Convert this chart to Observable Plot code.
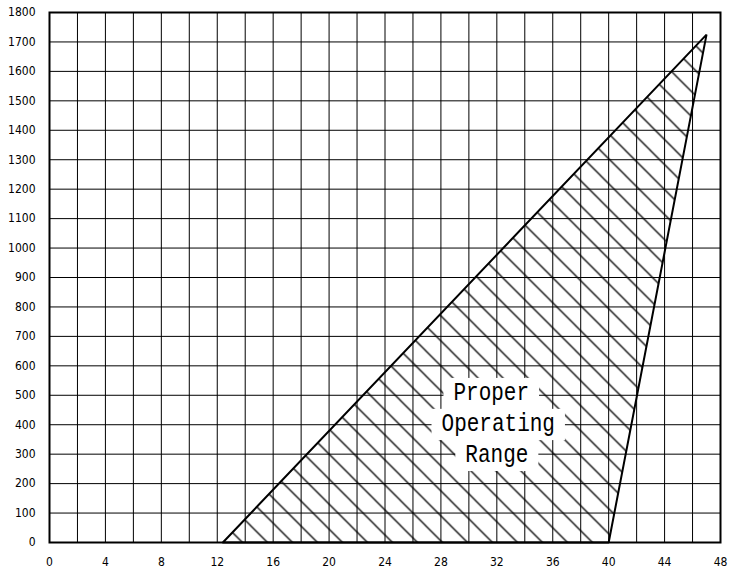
<!DOCTYPE html>
<html>
<head>
<meta charset="utf-8">
<script src="https://cdn.jsdelivr.net/npm/d3@7"></script>
<script src="https://cdn.jsdelivr.net/npm/@observablehq/plot@0.6"></script>
<style>
  html, body { margin: 0; padding: 0; background: #fff; }
  #chart { width: 729px; height: 571px; }
</style>
</head>
<body>
<div id="chart"></div>
<script>
// Axis ticks
const xTicks = [0, 4, 8, 12, 16, 20, 24, 28, 32, 36, 40, 44, 48];
const xGrid = [2, 4, 6, 8, 10, 12, 14, 16, 18, 20, 22, 24, 26, 28, 30, 32, 34, 36, 38, 40, 42, 44, 46];
const yTicks = [0, 100, 200, 300, 400, 500, 600, 700, 800, 900, 1000, 1100, 1200, 1300, 1400, 1500, 1600, 1700, 1800];

// Operating range polygon vertices (x, y), closed
const rangeX = [12.4, 47.0, 40.0, 12.4];
const rangeY = [0, 1725, 0, 0];

// Label
const labelLines = ["Proper", "Operating", "Range"];
const labelX = [31.6, 32.1, 32.0];
const labelY = [510, 405, 300];

const polygon = rangeX.map((x, i) => ({x, y: rangeY[i]}));
const labels = labelLines.map((t, i) => ({t, x: labelX[i], y: labelY[i]}));

const svg = Plot.plot({
  width: 729,
  height: 571,
  marginLeft: 49,
  marginRight: 9,
  marginTop: 12,
  marginBottom: 29,
  style: {fontFamily: "'Liberation Sans Narrow', 'DejaVu Sans Condensed', sans-serif", fontSize: "12px", background: "white", color: "black"},
  x: {domain: [0, 48]},
  y: {domain: [0, 1800]},
  marks: [
    Plot.gridX(xGrid, {stroke: "black", strokeOpacity: 1, strokeWidth: 1}),
    Plot.gridY(yTicks, {stroke: "black", strokeOpacity: 1, strokeWidth: 1}),
    Plot.line(polygon, {x: "x", y: "y", fill: "url(#hatch)", stroke: "black", strokeWidth: 2, strokeLinejoin: "miter"}),
    Plot.text(labels, {x: "x", y: "y", text: "t", fontFamily: "'Liberation Mono', monospace", fontSize: 21, fill: "black", ariaLabel: () => "rangelabel"}),
    Plot.frame({stroke: "black", strokeWidth: 2}),
    Plot.axisX(xTicks, {tickSize: 0, tickPadding: 15, fontSize: 12, label: null, tickFormat: d => String(d)}),
    Plot.axisY(yTicks, {tickSize: 0, tickPadding: 14, fontSize: 12, label: null, tickFormat: d => String(d)})
  ]
});

document.getElementById("chart").append(svg);

// Hatch pattern definition
const defs = d3.select(svg).insert("defs", ":first-child");
const pat = defs.append("pattern")
  .attr("id", "hatch")
  .attr("patternUnits", "userSpaceOnUse")
  .attr("x", 0).attr("y", 0)
  .attr("width", 25).attr("height", 25);
pat.append("path")
  .attr("d", "M-5,-5L30,30M-5,20L5,30M20,-5L30,5")
  .attr("stroke", "black")
  .attr("stroke-width", 1.3)
  .attr("fill", "none");

// White clearing behind label lines, and taller glyphs
let labelTexts = Array.from(svg.querySelectorAll('text[aria-label="rangelabel"]'));
if (labelTexts.length === 0) {
  labelTexts = Array.from(svg.querySelectorAll("text")).filter(t => labelLines.includes(t.textContent));
}
labelTexts.forEach(t => {
  const b = t.getBBox();
  const cx = b.x + b.width / 2, cy = b.y + b.height / 2;
  const tr = (t.getAttribute("transform") || "") +
    ` translate(${cx},${cy}) scale(1,1.25) translate(${-cx},${-cy})`;
  t.setAttribute("transform", tr);
  const r = document.createElementNS("http://www.w3.org/2000/svg", "rect");
  r.setAttribute("x", b.x - 10);
  r.setAttribute("y", b.y - 1);
  r.setAttribute("width", b.width + 20);
  r.setAttribute("height", b.height + 2);
  r.setAttribute("fill", "white");
  r.setAttribute("stroke", "none");
  r.setAttribute("transform", tr);
  t.parentNode.insertBefore(r, t);
});
</script>
</body>
</html>
